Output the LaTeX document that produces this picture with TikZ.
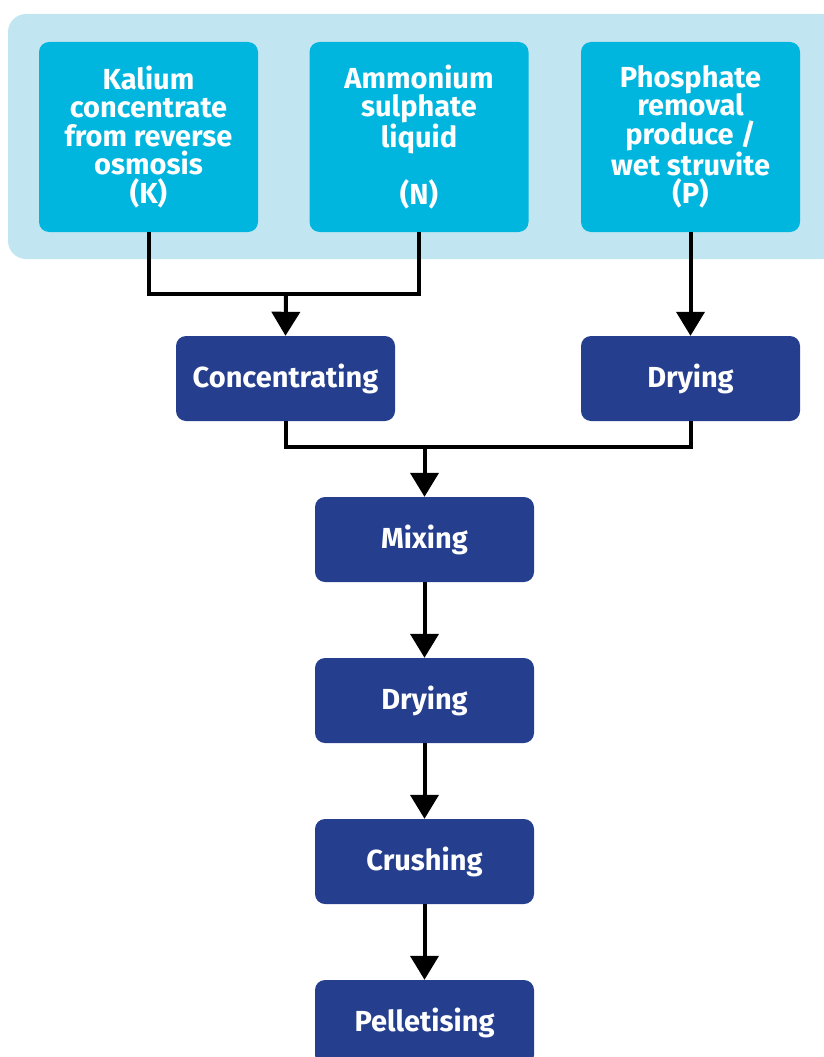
\documentclass[tikz,border=0pt]{standalone}
\usepackage{fontspec}
\setmainfont{Fira Sans}
\usetikzlibrary{positioning,arrows.meta}

\definecolor{panelblue}{HTML}{C2E6F1}
\definecolor{feedblue}{HTML}{00B6DF}
\definecolor{stepblue}{HTML}{253F8E}

\tikzset{
    feedbox/.style={fill=feedblue, rounded corners=10pt, minimum width=219pt, minimum height=190pt,
        text=white, align=center, font=\bfseries\fontsize{29}{28.5}\selectfont, inner sep=0pt},
    stepbox/.style={fill=stepblue, rounded corners=10pt, minimum width=219pt, minimum height=85pt,
        text=white, font=\bfseries\fontsize{29}{28.5}\selectfont, inner sep=0pt},
    flow/.style={line width=4pt, draw=black},
    flowarrow/.style={flow, -{Triangle[width=28pt,length=24pt]}}
}

\begin{document}
\begin{tikzpicture}[x=1pt,y=-1pt]  % pixel-like units, y pointing down
    \useasboundingbox (0,0) rectangle (823,1057);

    % Light panel round the three feeds
    \fill[panelblue, rounded corners=18pt] (8,14) rectangle (840,259);

    % Feed boxes
    \node[feedbox] (kalium)    at (148.5,137) {Kalium\\concentrate\\from reverse\\osmosis\\(K)};
    \node[feedbox] (ammonium)  at (419,137)   {Ammonium\\sulphate\\liquid\\\mbox{}\\(N)};
    \node[feedbox] (phosphate) at (690.5,137) {Phosphate\\removal\\produce /\\wet struvite\\(P)};

    % Process steps
    \node[stepbox] (concentrating) at (285.5,378.5) {Concentrating};
    \node[stepbox] (drypre)        at (690.5,378.5) {Drying};
    \node[stepbox] (mixing)        at (424.5,539.5) {Mixing};
    \node[stepbox] (drying)        at (424.5,700.5) {Drying};
    \node[stepbox] (crushing)      at (424.5,861.5) {Crushing};
    \node[stepbox] (pelletising)   at (424.5,1022.5) {Pelletising};

    % Join points
    \coordinate (kn) at (286,294);
    \coordinate (cd) at (424.5,447);

    % Connectors
    \draw[flow] (kalium.south) |- (kn) -| (ammonium.south);
    \draw[flowarrow] (kn) -- (concentrating.north);
    \draw[flowarrow] (phosphate.south) -- (drypre.north);
    \draw[flow] (concentrating.south) |- (cd) -| (drypre.south);
    \draw[flowarrow] (cd) -- (mixing.north);
    \draw[flowarrow] (mixing) -- (drying);
    \draw[flowarrow] (drying) -- (crushing);
    \draw[flowarrow] (crushing) -- (pelletising);

\end{tikzpicture}
\end{document}
